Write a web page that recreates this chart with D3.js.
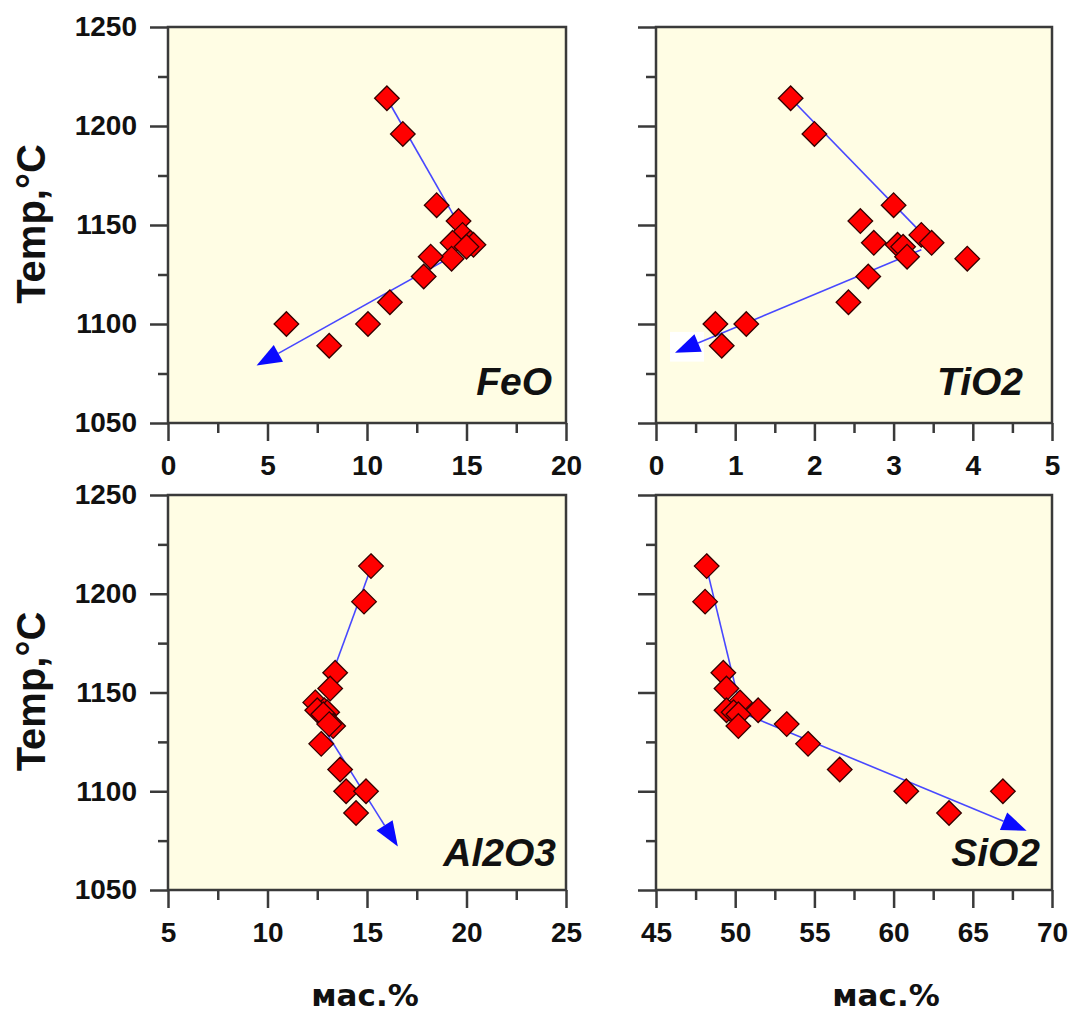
<!DOCTYPE html>
<html><head><meta charset="utf-8">
<script src="https://cdn.jsdelivr.net/npm/d3@7"></script>
<style>body{margin:0;background:#fff}svg{display:block}</style>
</head><body><svg id="c" width="1070" height="1014"></svg>
<script>
// ---- data ----
const temperature = [1214,1196,1160,1152,1145,1141,1141,1140,1139,1133,1134,1124,1111,1100,1100,1089];
const feo   = [11.0,11.8,13.5,14.6,14.8,15.2,14.3,15.35,15.0,14.25,13.2,12.85,11.15,10.05,5.95,8.1];
const tio2  = [1.70,2.0,3.0,2.58,3.35,3.48,2.75,3.05,3.12,3.93,3.17,2.68,2.43,1.14,0.75,0.83];
const al2o3 = [15.2,14.85,13.4,13.15,12.4,12.85,12.5,13.0,12.8,13.3,13.1,12.7,13.65,13.95,14.95,14.45];
const sio2  = [48.2,48.1,49.25,49.45,50.3,51.45,49.45,49.9,50.2,50.2,53.25,54.6,56.6,60.8,66.9,63.5];

const yTicks = [1050,1100,1150,1200,1250];
const yMinor = [1075,1125,1175,1225];
const xTicksFeO = [0,5,10,15,20],  xMinorFeO = [2.5,7.5,12.5,17.5];
const xTicksTiO2 = [0,1,2,3,4,5], xMinorTiO2 = [0.5,1.5,2.5,3.5,4.5];
const xTicksAl = [5,10,15,20,25],  xMinorAl = [7.5,12.5,17.5,22.5];
const xTicksSi = [45,50,55,60,65,70], xMinorSi = [47.5,52.5,57.5,62.5,67.5];

// trend lines: [start, end] pairs; second one ends in an arrow
const trendFeO  = [[[11.05,1213],[14.8,1147]], [[14.6,1136],[4.45,1079]]];
const trendTiO2 = [[[1.7,1214],[3.4,1144]],   [[3.35,1137.5],[0.24,1085.5]]];
const trendAl   = [[[15.2,1213],[13.2,1158]], [[13.0,1129],[16.55,1072]]];
const trendSi   = [[[48.2,1213],[50.1,1150]], [[50.2,1140.5],[68.4,1080]]];

const yTitle = "Temp,°C";
const xTitle = "мас.%";

// ---- layout ----
const svg = d3.select("#c");
const panels = [
  {name:"FeO",   vals:feo,   dom:[0,20],  ticks:xTicksFeO,  minor:xMinorFeO,  trend:trendFeO,  x0:168, x1:566, y0:27,  y1:423, yLabels:true,  lblX:552,  lblY:395},
  {name:"TiO2",  vals:tio2,  dom:[0,5],   ticks:xTicksTiO2, minor:xMinorTiO2, trend:trendTiO2, x0:656, x1:1052,y0:27,  y1:423, yLabels:false, lblX:1023, lblY:395, mask:true},
  {name:"Al2O3", vals:al2o3, dom:[5,25],  ticks:xTicksAl,   minor:xMinorAl,   trend:trendAl,   x0:168, x1:566, y0:495, y1:890, yLabels:true,  lblX:556,  lblY:866},
  {name:"SiO2",  vals:sio2,  dom:[45,70], ticks:xTicksSi,   minor:xMinorSi,   trend:trendSi,   x0:656, x1:1052,y0:495, y1:890, yLabels:false, lblX:1040, lblY:866}
];
const frameCol = "#3a3a3a";
const tickFont = "'Liberation Sans', Arial, sans-serif";

panels.forEach(p => {
  const x = d3.scaleLinear().domain(p.dom).range([p.x0, p.x1]);
  const y = d3.scaleLinear().domain([1050,1250]).range([p.y1, p.y0]);
  const g = svg.append("g");

  g.append("rect").attr("x",p.x0).attr("y",p.y0).attr("width",p.x1-p.x0).attr("height",p.y1-p.y0)
    .attr("fill","#FFFDE4");

  // axes
  const styleAxis = (a) => {
    a.select(".domain").remove();
    a.selectAll("line").attr("stroke",frameCol).attr("stroke-width",2.5);
    a.selectAll("text").attr("fill","#111").attr("font-family",tickFont)
      .attr("font-weight","bold").attr("font-size",28);
  };
  const ax = g.append("g").attr("transform",`translate(0,${p.y1})`)
    .call(d3.axisBottom(x).tickValues(p.ticks).tickSize(18).tickSizeOuter(0).tickPadding(14).tickFormat(d3.format("d")));
  styleAxis(ax);
  const axm = g.append("g").attr("transform",`translate(0,${p.y1})`)
    .call(d3.axisBottom(x).tickValues(p.minor).tickSize(10).tickSizeOuter(0).tickFormat(""));
  styleAxis(axm);
  const ay = g.append("g").attr("transform",`translate(${p.x0},0)`)
    .call(d3.axisLeft(y).tickValues(yTicks).tickSize(18).tickSizeOuter(0).tickPadding(13)
      .tickFormat(p.yLabels ? d3.format("d") : ""));
  styleAxis(ay);
  const aym = g.append("g").attr("transform",`translate(${p.x0},0)`)
    .call(d3.axisLeft(y).tickValues(yMinor).tickSize(10).tickSizeOuter(0).tickFormat(""));
  styleAxis(aym);

  // trend lines with arrow
  p.trend.forEach((seg, i) => {
    const a = [x(seg[0][0]), y(seg[0][1])];
    const b = [x(seg[1][0]), y(seg[1][1])];
    if (i === 1) {
      const dx = b[0]-a[0], dy = b[1]-a[1], L = Math.hypot(dx,dy);
      const ux = dx/L, uy = dy/L, len = 25, hw = 9.5;
      const base = [b[0]-ux*len, b[1]-uy*len];
      if (p.mask) {
        g.append("rect").attr("x",x(0.177)).attr("y",y(1096)).attr("width",x(0.606)-x(0.177))
          .attr("height",y(1081)-y(1096)).attr("fill","#fff");
      }
      g.append("line").attr("x1",a[0]).attr("y1",a[1]).attr("x2",base[0]).attr("y2",base[1])
        .attr("stroke","#4848ff").attr("stroke-width",1.6);
      g.append("polygon")
        .attr("points",[[b[0],b[1]],[base[0]-uy*hw, base[1]+ux*hw],[base[0]+uy*hw, base[1]-ux*hw]].map(q=>q.join(",")).join(" "))
        .attr("fill","#0a0aff");
    } else {
      g.append("line").attr("x1",a[0]).attr("y1",a[1]).attr("x2",b[0]).attr("y2",b[1])
        .attr("stroke","#4848ff").attr("stroke-width",1.6);
    }
  });

  // markers
  const s = 12.3;
  g.selectAll("path.pt").data(p.vals.map((v,i)=>[v,temperature[i]])).join("path")
    .attr("class","pt")
    .attr("d", d => { const cx=x(d[0]), cy=y(d[1]); return `M${cx},${cy-s}L${cx+s},${cy}L${cx},${cy+s}L${cx-s},${cy}Z`; })
    .attr("fill","#ff0000").attr("stroke","#350000").attr("stroke-width",1.3);

  // frame
  g.append("rect").attr("x",p.x0).attr("y",p.y0).attr("width",p.x1-p.x0).attr("height",p.y1-p.y0)
    .attr("fill","none").attr("stroke",frameCol).attr("stroke-width",2.5);

  // panel label
  g.append("text").attr("x",p.lblX).attr("y",p.lblY).attr("text-anchor","end")
    .attr("font-family",tickFont).attr("font-weight","bold").attr("font-style","italic")
    .attr("font-size",39).attr("fill","#111").text(p.name);

  if (p.yLabels) {
    svg.append("text").attr("transform",`translate(45,${(p.y0+p.y1)/2-1}) rotate(-90)`)
      .attr("text-anchor","middle").attr("font-family",tickFont).attr("font-weight","bold")
      .attr("font-size",40).attr("fill","#111").text(yTitle);
  }
});

// x titles
[[365,1006],[886,1006]].forEach(pos => {
  svg.append("text").attr("x",pos[0]).attr("y",pos[1]).attr("text-anchor","middle")
    .attr("font-family","'DejaVu Sans', sans-serif").attr("font-weight","bold")
    .attr("font-size",31).attr("fill","#111").text(xTitle);
});
</script></body></html>
